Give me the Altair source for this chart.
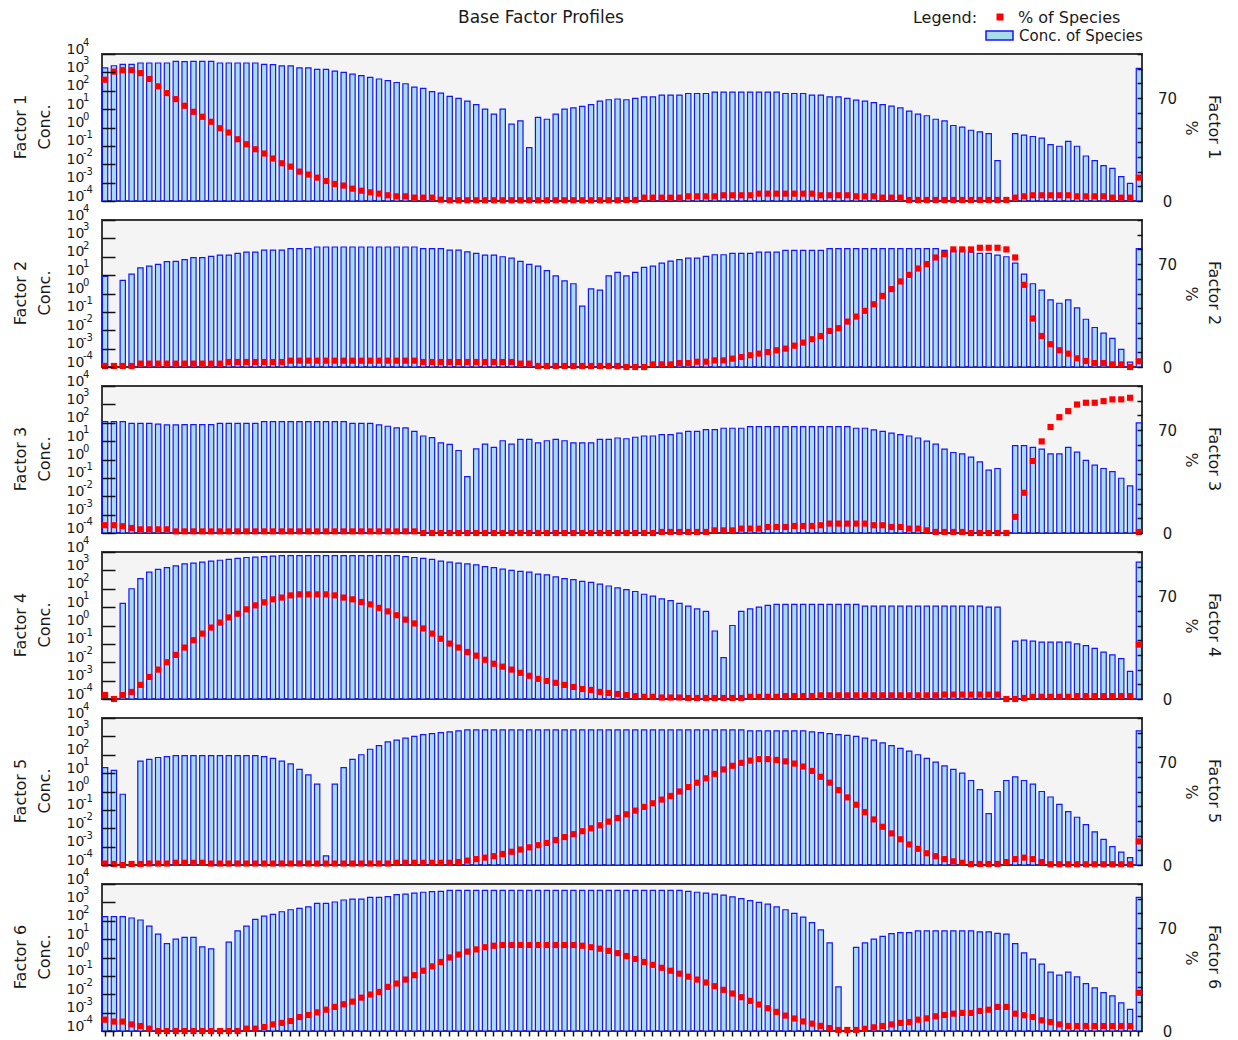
import altair as alt
import pandas as pd

species = list(range(1, 119))

# ---- log10 of "Conc. of Species" (None = no bar) and "% of Species" per factor ----
f1_conc_log = [
    3.24, 3.36, 3.44, 3.44, 3.51, 3.51, 3.51, 3.51, 3.6, 3.58,
    3.6, 3.6, 3.6, 3.51, 3.51, 3.51, 3.51, 3.51, 3.44, 3.42,
    3.35, 3.35, 3.25, 3.25, 3.16, 3.16, 3.07, 3.0, 2.91, 2.82,
    2.73, 2.64, 2.55, 2.45, 2.38, 2.2, 2.13, 1.95, 1.87, 1.69,
    1.58, 1.44, 1.25, 1.0, 0.73, 1.0, 0.18, 0.36, -1.1, 0.55,
    0.45, 0.73, 1.0, 1.07, 1.15, 1.25, 1.44, 1.51, 1.55,
    1.51, 1.58, 1.67, 1.67, 1.76, 1.76, 1.76, 1.85, 1.85, 1.85,
    1.93, 1.93, 1.93, 1.93, 1.93, 1.93, 1.93, 1.93, 1.85, 1.85,
    1.85, 1.76, 1.76, 1.67, 1.67, 1.58, 1.49, 1.44, 1.35, 1.25,
    1.16, 1.07, 0.89, 0.73, 0.64, 0.45, 0.36, 0.11, 0.02, -0.15,
    -0.24, -0.33, -1.8, None, -0.33, -0.42, -0.49, -0.58, -0.93, -1.02,
    -0.75, -1.02, -1.55, -1.8, -2.07, -2.22, -2.67, -3.04, 3.22,
]
f1_pct = [
    82.5, 88, 89, 89, 87, 83, 78, 73.4, 69.3, 64.8,
    60.7, 57.3, 53.9, 49.5, 46.6, 42, 38.6, 35.2, 32.3, 28.9,
    25.7, 23.4, 20, 18, 15.9, 13.6, 11.6, 10.5, 8.4, 7,
    5.9, 5, 3.9, 3.2, 3.2, 2.3, 2.3, 2.3, 0.9, 0.5,
    0.5, 0.5, 0.5, 0.5, 0.5, 0.5, 0.5, 0.5, 0.5, 0.5,
    0.5, 0.5, 0.5, 0.5, 0.5, 0.5, 0.5, 0.5, 0.5,
    0.7, 0.7, 2.3, 2.3, 2.3, 2.3, 2.3, 3.2, 3.2, 3.2,
    3.2, 3.9, 3.9, 3.9, 3.9, 5, 5, 5, 5, 5,
    5, 5, 3.9, 3.9, 3.9, 3.9, 3.2, 3.2, 3.2, 2.3,
    2.3, 2.3, 0.7, 0.7, 0.7, 0.7, 0.7, 0.7, 0.7, 0.7,
    0.7, 0.7, 0.7, 0.7, 2.3, 3.2, 3.9, 3.9, 3.9, 3.9,
    3.9, 3.2, 3.2, 3.2, 3.2, 2.3, 2.3, 2.3, 15.9,
]

f2_conc_log = [
    0.93, None, 0.71, 1.05, 1.4, 1.49, 1.58, 1.73, 1.75, 1.84,
    1.95, 1.95, 2.02, 2.09, 2.09, 2.18, 2.25, 2.25, 2.36, 2.36,
    2.36, 2.44, 2.44, 2.44, 2.53, 2.53, 2.53, 2.53, 2.53, 2.53,
    2.53, 2.53, 2.53, 2.53, 2.53, 2.53, 2.44, 2.44, 2.44, 2.36,
    2.36, 2.27, 2.18, 2.09, 2.09, 2.0, 1.93, 1.75, 1.58, 1.49,
    1.24, 0.96, 0.69, 0.53, -0.69, 0.25, 0.18, 0.96, 1.15,
    0.96, 1.15, 1.42, 1.49, 1.65, 1.76, 1.84, 1.93, 1.93, 2.02,
    2.11, 2.11, 2.18, 2.18, 2.18, 2.25, 2.25, 2.25, 2.35, 2.35,
    2.35, 2.35, 2.35, 2.44, 2.44, 2.44, 2.44, 2.44, 2.44, 2.44,
    2.44, 2.44, 2.44, 2.44, 2.44, 2.44, 2.35, 2.35, 2.35, 2.25,
    2.18, 2.18, 2.09, 2.0, 1.65, 1.05, 0.53, 0.18, -0.35, -0.53,
    -0.35, -0.78, -1.4, -1.85, -2.16, -2.44, -3.04, -3.73, 2.44,
]
f2_pct = [
    0.7, 0.7, 0.7, 0.7, 2.3, 2.3, 2.3, 2.3, 2.3, 2.3,
    2.3, 2.3, 2.3, 2.3, 3.4, 3.4, 3.4, 3.4, 3.4, 3.4,
    3.4, 4.3, 4.3, 4.3, 4.3, 4.3, 4.3, 4.3, 4.3, 4.3,
    4.3, 4.3, 4.3, 4.3, 4.3, 4.3, 3.4, 3.4, 3.4, 3.4,
    3.4, 3.4, 3.4, 3.4, 3.4, 3.4, 3.4, 2.3, 2.3, 0.7,
    0.7, 0.7, 0.7, 0.7, 0.7, 0.7, 0.7, 0.7, 0.7,
    0, 0, 0, 1.8, 1.8, 1.8, 2.7, 2.7, 3.6, 3.6,
    4.5, 4.5, 5.7, 6.8, 8, 9.1, 10.2, 11.4, 12.5, 14.5,
    16.6, 18.9, 21.1, 24.5, 26.4, 30.9, 34.3, 38.2, 42.7, 48.4,
    53, 58.2, 62.7, 67, 70, 74.5, 76.8, 80, 80, 80,
    81.1, 81.1, 81.1, 80, 74.5, 55.9, 33, 21.1, 15.5, 11.4,
    9.1, 5.9, 4.1, 2.7, 2.7, 1.8, 1.8, 0, 3.9,
]

f3_conc_log = [
    2.06, 2.06, 2.06, 1.97, 1.97, 1.97, 1.92, 1.88, 1.88, 1.9,
    1.9, 1.9, 1.9, 1.97, 1.97, 1.97, 1.97, 1.97, 2.06, 2.06,
    2.06, 2.06, 2.06, 2.06, 2.06, 2.06, 2.06, 2.06, 1.97, 1.97,
    1.97, 1.88, 1.81, 1.72, 1.72, 1.53, 1.28, 1.19, 0.91, 0.82,
    0.49, -0.93, 0.58, 0.84, 0.66, 1.02, 0.84, 1.1, 1.1, 0.91,
    1.02, 1.1, 1.02, 0.91, 0.91, 0.91, 1.1, 1.1, 1.17,
    1.13, 1.21, 1.28, 1.28, 1.35, 1.35, 1.44, 1.53, 1.53, 1.63,
    1.63, 1.7, 1.7, 1.7, 1.79, 1.79, 1.79, 1.79, 1.79, 1.79,
    1.79, 1.79, 1.79, 1.79, 1.79, 1.79, 1.7, 1.7, 1.61, 1.53,
    1.44, 1.35, 1.28, 1.17, 1.0, 0.84, 0.57, 0.38, 0.31, 0.13,
    -0.13, -0.58, -0.49, None, 0.75, 0.75, 0.66, 0.57, 0.31, 0.31,
    0.66, 0.4, -0.05, -0.31, -0.49, -0.66, -1.02, -1.44, 1.99,
]
f3_pct = [
    5.3, 5.3, 4.6, 3.4, 2.5, 2.5, 2.5, 2.5, 1.1, 1.1,
    1.1, 1.1, 1.1, 1.1, 1.1, 1.1, 1.1, 1.1, 1.1, 1.1,
    1.1, 1.1, 1.1, 1.1, 1.1, 1.1, 1.1, 1.1, 1.1, 1.1,
    1.1, 1.1, 1.1, 1.1, 1.1, 1.1, 0, 0, 0, 0,
    0, 0, 0, 0, 0, 0, 0, 0, 0, 0,
    0, 0, 0, 0, 0, 0, 0, 0, 0,
    0, 0, 0, 0, 0.7, 0.7, 0.7, 0.7, 0.7, 0.7,
    1.8, 1.8, 1.8, 3.0, 3.0, 3.0, 4.1, 4.1, 4.1, 4.8,
    4.8, 4.8, 5.3, 6.4, 6.4, 6.4, 6.4, 6.4, 5.3, 5.3,
    4.1, 4.1, 3.0, 3.0, 1.8, 0.7, 0.7, 0.7, 0.7, 0,
    0, 0, 0, 0, 11, 27.4, 49, 62.3, 72.1, 78.8,
    82.9, 87.4, 88.6, 88.6, 89.7, 90.9, 90.9, 92, 0.7,
]

f4_conc_log = [
    None, None, 1.2, 2.0, 2.55, 2.9, 3.05, 3.15, 3.25, 3.35,
    3.4, 3.45, 3.5, 3.55, 3.6, 3.65, 3.7, 3.72, 3.75, 3.78,
    3.8, 3.8, 3.8, 3.8, 3.8, 3.8, 3.8, 3.8, 3.8, 3.8,
    3.8, 3.8, 3.8, 3.8, 3.75, 3.7, 3.65, 3.6, 3.5, 3.45,
    3.4, 3.35, 3.3, 3.2, 3.15, 3.07, 3.0, 2.95, 2.9, 2.8,
    2.75, 2.65, 2.55, 2.5, 2.4, 2.35, 2.25, 2.15, 2.05, 1.95,
    1.85, 1.7, 1.6, 1.45, 1.35, 1.2, 1.05, 0.9, 0.77, -0.3,
    -1.75, 0.0, 0.77, 0.9, 1.0, 1.1, 1.15, 1.15, 1.15, 1.15,
    1.15, 1.15, 1.15, 1.15, 1.15, 1.15, 1.05, 1.05, 1.05, 1.05,
    1.05, 1.05, 1.05, 1.05, 1.05, 1.05, 1.05, 1.05, 1.05, 1.05,
    1.0, 1.0, None, -0.85, -0.8, -0.85, -0.9, -0.9, -0.9, -0.9,
    -1.0, -1.1, -1.25, -1.45, -1.6, -1.8, -2.5, 3.45,
]
f4_pct = [
    2.7, 0, 2.7, 4.8, 9.6, 15, 20, 25, 30, 35,
    40, 44.5, 48.6, 52, 55.5, 58, 61, 63.7, 65.8, 67.8,
    69, 70.5, 71.2, 71.2, 71.2, 71.2, 70.5, 69, 67.8, 66,
    64.4, 62, 59.6, 57, 54, 51.4, 48, 44.5, 41, 37.7,
    35, 32, 29.5, 26.7, 24, 22, 20, 17.8, 15.8, 13.7,
    12.3, 11, 9.6, 8.2, 6.8, 6.2, 4.8, 4.1, 3.4, 2.7,
    2, 1.5, 1.5, 1, 1, 1, 0.7, 0.7, 0.7, 0.7,
    0.7, 0.7, 0.7, 1.5, 1.5, 1.5, 1.5, 2, 2, 2,
    2, 2.5, 2.5, 2.5, 2.5, 2.5, 2.5, 2.5, 2.5, 2.5,
    2.5, 2.5, 2.5, 2.5, 2.5, 3, 3, 3, 3, 3,
    3, 3, 0, 0, 0.7, 1.5, 1.5, 1.5, 1.5, 1.5,
    2, 2, 2, 2, 2, 2, 2, 37,
]

f5_conc_log = [
    1.3, 1.15, -0.15, None, 1.65, 1.75, 1.85, 1.9, 1.95, 1.95,
    1.95, 1.95, 1.95, 1.95, 1.95, 1.95, 1.95, 1.95, 1.9, 1.8,
    1.65, 1.5, 1.2, 0.9, 0.4, -3.5, 0.4, 1.3, 1.75, 2.0,
    2.3, 2.5, 2.7, 2.8, 2.9, 3.0, 3.1, 3.15, 3.2, 3.25,
    3.3, 3.35, 3.35, 3.35, 3.35, 3.35, 3.35, 3.35, 3.35, 3.35,
    3.35, 3.35, 3.35, 3.35, 3.35, 3.35, 3.35, 3.35, 3.35, 3.35,
    3.35, 3.35, 3.35, 3.35, 3.35, 3.35, 3.35, 3.35, 3.35, 3.35,
    3.35, 3.35, 3.35, 3.3, 3.3, 3.3, 3.3, 3.3, 3.3, 3.3,
    3.25, 3.2, 3.15, 3.1, 3.05, 3.0, 2.9, 2.8, 2.65, 2.5,
    2.35, 2.2, 2.0, 1.8, 1.6, 1.4, 1.2, 1.0, 0.6, 0.1,
    -1.2, 0.0, 0.6, 0.8, 0.6, 0.4, 0.0, -0.3, -0.7, -1.1,
    -1.4, -1.8, -2.2, -2.6, -3.0, -3.3, -3.6, 3.3,
]
f5_pct = [
    1, 0.7, 0, 0.7, 0.7, 1, 1, 1, 1.5, 1.5,
    1.5, 1.5, 1, 1, 1, 1, 1, 1, 1, 1,
    1, 1, 1, 1, 1, 1, 1, 1, 1, 1,
    1, 1, 1, 1.5, 1.5, 1.5, 1.5, 1.5, 1.5, 1.5,
    2, 3, 4, 5, 6, 7.5, 9, 10.5, 12, 13.5,
    15, 17, 19, 21, 23, 25, 27, 29.5, 32, 34.5,
    37, 39.5, 42, 44.5, 47, 50, 53, 56, 59, 62,
    65, 67.5, 69.5, 71, 72, 72, 71.5, 70.5, 69, 67,
    64, 60, 56, 51, 46, 41, 36, 31, 26, 21.5,
    17.5, 14, 11, 8, 6, 4, 2.5, 1.5, 0.7, 0.7,
    0.7, 0.7, 2, 4, 5, 4, 2, 0.5, 0.5, 0.5,
    0.5, 0.5, 0.5, 0.5, 0.5, 0.5, 0.5, 16,
]

f6_conc_log = [
    2.22, 2.22, 2.22, 2.15, 2.04, 1.71, 1.27, 0.76, 1.0, 1.09,
    1.09, 0.58, 0.47, None, 0.84, 1.45, 1.71, 2.07, 2.25, 2.35,
    2.49, 2.6, 2.67, 2.76, 2.95, 2.95, 3.02, 3.13, 3.18, 3.18,
    3.27, 3.27, 3.31, 3.42, 3.45, 3.5, 3.55, 3.58, 3.6, 3.65,
    3.65, 3.65, 3.65, 3.65, 3.65, 3.65, 3.65, 3.65, 3.65, 3.65,
    3.65, 3.65, 3.65, 3.65, 3.65, 3.65, 3.65, 3.65, 3.65, 3.65,
    3.65, 3.65, 3.65, 3.65, 3.65, 3.65, 3.6, 3.55, 3.5, 3.45,
    3.4, 3.3, 3.2, 3.1, 3.0, 2.9, 2.75, 2.6, 2.4, 2.2,
    1.9, 1.5, 0.8, -1.6, None, 0.55, 0.8, 1.0, 1.15, 1.3,
    1.35, 1.35, 1.45, 1.45, 1.45, 1.45, 1.45, 1.45, 1.45, 1.4,
    1.4, 1.31, 1.27, 0.76, 0.25, -0.09, -0.36, -0.8, -0.96, -0.8,
    -1.05, -1.42, -1.65, -1.91, -2.09, -2.47, -2.82, 3.27,
]
f6_pct = [
    7.7, 6.4, 6.4, 4.5, 3.4, 1.6, 0, 0, 0, 0,
    0, 0, 0, 0, 0, 0, 1.6, 1.6, 2.7, 4.5,
    5.5, 6.8, 9.5, 10.9, 12.7, 14.5, 16.4, 18.2, 20, 22.7,
    24.8, 26.6, 30, 32.3, 35, 38, 41, 44, 47, 50,
    52, 54, 55.5, 57, 58, 58.5, 58.5, 58.5, 58.5, 58.5,
    58.5, 58.5, 58.5, 58.5, 58, 57, 56, 54.5, 53, 51,
    49, 47, 45, 43, 41, 39, 37, 35, 33, 30.5,
    28, 25.5, 23, 20.5, 18, 15.5, 13, 10.5, 8.5, 6.5,
    5, 3.5, 2, 0.7, 0.7, 0.7, 1.5, 2.5, 3.4, 4.5,
    5.5, 6.1, 7.7, 8.6, 10, 10.9, 11.8, 12.3, 12.3, 13.6,
    14.5, 16.4, 16.4, 11.8, 10.7, 9.5, 7.3, 6.1, 4.5, 3.4,
    3.4, 3.4, 3.4, 3.4, 3.4, 3.4, 3.4, 26,
]

factors = [
    ("Factor 1", f1_conc_log, f1_pct),
    ("Factor 2", f2_conc_log, f2_pct),
    ("Factor 3", f3_conc_log, f3_pct),
    ("Factor 4", f4_conc_log, f4_pct),
    ("Factor 5", f5_conc_log, f5_pct),
    ("Factor 6", f6_conc_log, f6_pct),
]

# log-axis tick values and the exponents written above each "10"
log_axis_values = [0.0001, 0.001, 0.01, 0.1, 1, 10, 100, 1000, 10000]
log_axis_exponents = ["-4", "-3", "-2", "-1", "0", "1", "2", "3", "4"]
pct_axis_values = [0, 10, 20, 30, 40, 50, 60, 70, 80, 90, 100]

FONT = "DejaVu Sans"
TXT = "#1a1a1a"
BAR_FILL = "#a8dcea"
BAR_STROKE = "#1414ff"
PLOT_W, PLOT_H = 1040, 147


def text_layer(txt, x, y, angle=0, size=16, align="center"):
    return alt.Chart(pd.DataFrame({"t": [txt]})).mark_text(
        angle=angle, fontSize=size, font=FONT, align=align, baseline="middle", color=TXT
    ).encode(text="t:N", x=alt.value(x), y=alt.value(y))


def panel(name, logs, pcts, first, last):
    if len(logs) != len(species) or len(pcts) != len(species):
        raise ValueError(f"{name}: {len(logs)} conc, {len(pcts)} pct")
    df = pd.DataFrame({
        "species": species,
        "conc": [None if v is None else 10 ** v for v in logs],
        "pct": pcts,
        "base": [1e-4] * len(species),
    })
    xscale = alt.Scale(domain=species, paddingInner=0.4, paddingOuter=0.05)
    if last:
        xaxis = alt.Axis(labels=False, domain=False, ticks=True, tickSize=5, tickWidth=1.5,
                         tickColor="#111", title=None, grid=False)
    else:
        xaxis = None
    log_scale = alt.Scale(type="log", domain=[1e-4, 1e4], clamp=True, nice=False)
    bars = alt.Chart(df).transform_filter("isValid(datum.conc)").mark_bar(
        fill=BAR_FILL, stroke=BAR_STROKE, strokeWidth=1.2
    ).encode(
        x=alt.X("species:O", scale=xscale, axis=xaxis),
        y=alt.Y("conc:Q", scale=log_scale,
                axis=alt.Axis(orient="left", values=log_axis_values, labelExpr="'10'",
                              title=None, grid=False, domain=False, ticks=True, tickSize=13,
                              tickWidth=1.5, tickColor="#111", offset=-13, labelPadding=36,
                              labelAlign="left", labelOffset=-5, labelFont=FONT,
                              labelFontSize=14, labelOverlap=False, zindex=1)),
        y2="base:Q",
    )
    exps = alt.Chart(pd.DataFrame({"v": log_axis_values, "e": log_axis_exponents})).mark_text(
        align="left", baseline="middle", fontSize=10, font=FONT, color=TXT, dy=-11
    ).encode(
        x=alt.value(-19),
        y=alt.Y("v:Q", scale=log_scale, axis=None),
        text="e:N",
    )
    squares = alt.Chart(df).mark_square(size=38, color="#ff0000", opacity=1).encode(
        x=alt.X("species:O", scale=xscale, axis=xaxis),
        y=alt.Y("pct:Q", scale=alt.Scale(domain=[0, 100], nice=False),
                axis=alt.Axis(orient="right", values=pct_axis_values,
                              labelExpr="datum.value == 0 || datum.value == 70 ? datum.label : ''",
                              title=None, grid=False, domain=False, tickSize=5, tickWidth=1.5,
                              tickColor="#111", offset=-5, labelPadding=25, labelAlign="center",
                              labelFont=FONT, labelFontSize=15, labelOverlap=False, zindex=1)),
    )
    layers = [bars, squares, exps,
              text_layer(name, -81, 73, angle=270),
              text_layer("Conc.", -57, 73, angle=270),
              text_layer("%", 1089, 74, angle=90),
              text_layer(name, 1112, 73, angle=90)]
    if first:
        layers += [
            text_layer("Base Factor Profiles", 439, -36, size=17),
            text_layer("Legend:", 843, -36),
            alt.Chart(pd.DataFrame({"t": ["% of Species"]})).mark_square(
                size=49, color="#ff0000", opacity=1).encode(x=alt.value(898), y=alt.value(-37)),
            text_layer("% of Species", 916, -36, align="left"),
            alt.Chart(pd.DataFrame({"t": ["Conc. of Species"]})).mark_rect(
                fill=BAR_FILL, stroke=BAR_STROKE, strokeWidth=1.5).encode(
                x=alt.value(884), x2=alt.value(911), y=alt.value(-23), y2=alt.value(-14)),
            text_layer("Conc. of Species", 917, -18, size=15, align="left"),
        ]
    return alt.layer(*layers).resolve_scale(y="independent").properties(width=PLOT_W, height=PLOT_H)


panels = [panel(n, c, p, i == 0, i == len(factors) - 1) for i, (n, c, p) in enumerate(factors)]

chart = alt.vconcat(*panels, spacing=19, bounds="flush").properties(
    padding={"left": 4, "top": 0, "right": 5, "bottom": 0}
).configure_view(
    fill="#f4f4f4", stroke="#3a3a3a", strokeWidth=2
).configure_axis(
    labelFont=FONT, labelColor=TXT
)

chart.save("out.html", embed_options={"renderer": "svg", "actions": False})
